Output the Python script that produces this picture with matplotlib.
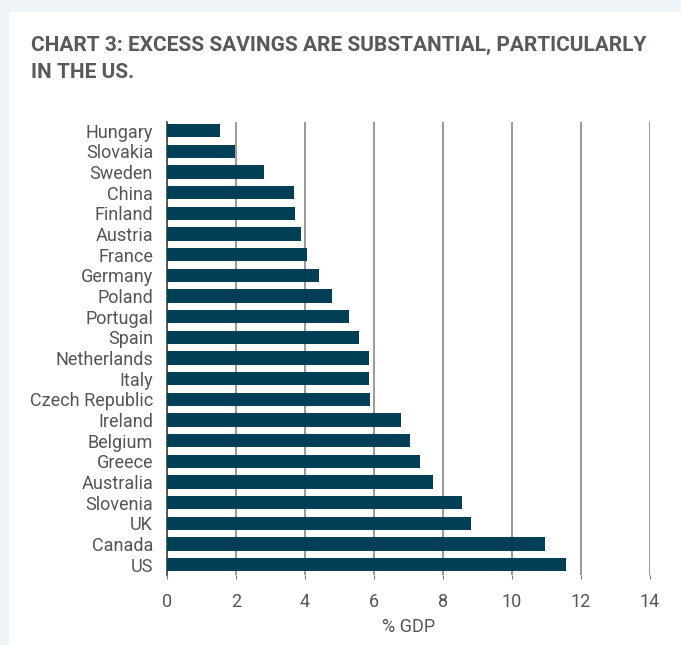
import matplotlib.pyplot as plt
from matplotlib.patches import Rectangle

countries = ['Hungary', 'Slovakia', 'Sweden', 'China', 'Finland', 'Austria', 'France',
             'Germany', 'Poland', 'Portugal', 'Spain', 'Netherlands', 'Italy',
             'Czech Republic', 'Ireland', 'Belgium', 'Greece', 'Australia', 'Slovenia',
             'UK', 'Canada', 'US']
savings = [1.54, 1.96, 2.80, 3.67, 3.70, 3.89, 4.07, 4.41, 4.79, 5.28, 5.57, 5.86, 5.86,
           5.89, 6.79, 7.04, 7.33, 7.71, 8.54, 8.81, 10.96, 11.56]
xticks = [0, 2, 4, 6, 8, 10, 12, 14]

plt.rcParams['font.family'] = ['Roboto', 'DejaVu Sans']

fig = plt.figure(figsize=(6.81, 6.45), dpi=100)
fig.patch.set_facecolor('white')
# light frame strips (left and top)
fig.patches.append(Rectangle((0, 0), 8 / 681, 1, transform=fig.transFigure,
                             color='#eef4f8', zorder=0))
fig.patches.append(Rectangle((0, 1 - 11 / 645), 1, 11 / 645, transform=fig.transFigure,
                             color='#eef4f8', zorder=0))

fig.text(31 / 681, 1 - 45 / 645, 'CHART 3: EXCESS SAVINGS ARE SUBSTANTIAL, PARTICULARLY',
         fontsize=15, fontweight='bold', color='#58595b', va='center', ha='left')
fig.text(31 / 681, 1 - 73 / 645, 'IN THE US.',
         fontsize=15, fontweight='bold', color='#58595b', va='center', ha='left')

ax = fig.add_axes([167 / 681, 1 - 575 / 645, (650 - 167) / 681, (575 - 122) / 645])
ypos = list(range(len(countries)))
ax.barh(ypos, savings, height=0.64, color='#003f56', zorder=3)
ax.set_ylim(len(countries) - 0.5, -0.42)
ax.set_xlim(0, 14)
ax.set_yticks(ypos)
ax.set_yticklabels(countries, fontsize=13, color='#555555')
ax.set_xticks(xticks)
ax.set_xticklabels([str(t) for t in xticks], fontsize=13, color='#555555')
ax.tick_params(axis='y', length=0, pad=10)
ax.tick_params(axis='x', length=3, color='#777777', pad=10)
ax.grid(axis='x', color='#7f7f7f', linewidth=1.1, zorder=0)
for s in ['top', 'right', 'bottom']:
    ax.spines[s].set_visible(False)
ax.spines['left'].set_color('#444444')
ax.spines['left'].set_linewidth(1.2)
ax.set_xlabel('% GDP', fontsize=13, color='#555555', labelpad=5)

fig.savefig('out.png', dpi=100)
